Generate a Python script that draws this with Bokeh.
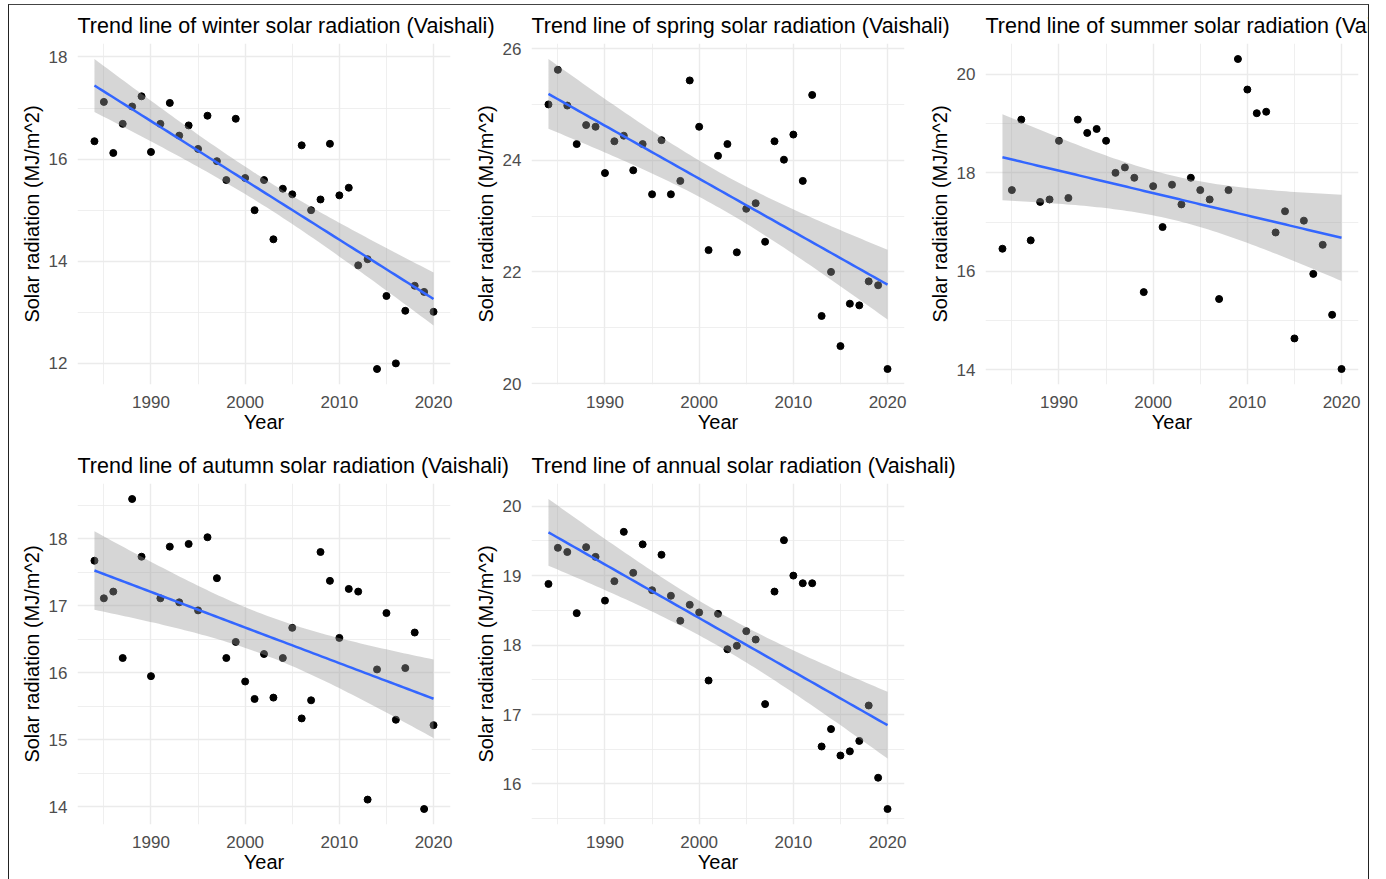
import numpy as np
from bokeh.plotting import figure
from bokeh.layouts import row, column
from bokeh.models import FixedTicker, Range1d
from bokeh.embed import file_html
from bokeh.resources import INLINE

years = list(range(1984, 2021))

winter = [16.35, 17.12, 16.12, 16.69, 17.03, 17.23, 16.14, 16.69, 17.10, 16.46,
          16.66, 16.20, 16.85, 15.96, 15.59, 16.79, 15.63, 15.00, 15.59, 14.43,
          15.42, 15.31, 16.27, 15.00, 15.21, 16.30, 15.29, 15.44, 13.92, 14.04,
          11.89, 13.32, 12.00, 13.03, 13.52, 13.40, 13.01]
spring = [25.00, 25.62, 24.98, 24.29, 24.63, 24.60, 23.77, 24.34, 24.44, 23.82,
          24.29, 23.39, 24.36, 23.39, 23.63, 25.43, 24.60, 22.39, 24.08, 24.29,
          22.35, 23.13, 23.23, 22.54, 24.34, 24.01, 24.46, 23.63, 25.17, 21.21,
          22.00, 20.67, 21.43, 21.40, 21.83, 21.76, 20.26]
summer = [16.46, 17.65, 19.08, 16.63, 17.41, 17.46, 18.65, 17.49, 19.08, 18.81,
          18.89, 18.65, 18.00, 18.11, 17.90, 15.58, 17.73, 16.90, 17.76, 17.36,
          17.90, 17.65, 17.46, 15.44, 17.65, 20.31, 19.69, 19.21, 19.24, 16.79,
          17.22, 14.64, 17.03, 15.95, 16.54, 15.12, 14.02]
autumn = [17.67, 17.11, 17.21, 16.22, 18.59, 17.73, 15.95, 17.11, 17.88, 17.05,
          17.92, 16.93, 18.02, 17.41, 16.22, 16.46, 15.87, 15.61, 16.28, 15.63,
          16.22, 16.67, 15.32, 15.59, 17.80, 17.37, 16.52, 17.25, 17.21, 14.11,
          16.05, 16.89, 15.30, 16.07, 16.60, 13.97, 15.22]
annual = [18.88, 19.40, 19.34, 18.46, 19.41, 19.27, 18.64, 18.92, 19.63, 19.04,
          19.45, 18.79, 19.30, 18.71, 18.35, 18.58, 18.47, 17.49, 18.45, 17.94,
          17.99, 18.20, 18.08, 17.15, 18.77, 19.51, 19.00, 18.89, 18.89, 16.54,
          16.79, 16.41, 16.47, 16.62, 17.13, 16.09, 15.64]

titles = ["Trend line of winter solar radiation (Vaishali)",
          "Trend line of spring solar radiation (Vaishali)",
          "Trend line of summer solar radiation (Vaishali)",
          "Trend line of autumn solar radiation (Vaishali)",
          "Trend line of annual solar radiation (Vaishali)"]

x_major = [1990, 2000, 2010, 2020]
x_minor = [1985, 1995, 2005, 2015]
y_major = [[12, 14, 16, 18], [20, 22, 24, 26], [14, 16, 18, 20],
           [14, 15, 16, 17, 18], [16, 17, 18, 19, 20]]
y_minor = [[13, 15, 17], [21, 23, 25], [15, 17, 19],
           [14.5, 15.5, 16.5, 17.5, 18.5], [15.5, 16.5, 17.5, 18.5, 19.5]]

T975 = 2.0301  # t quantile, df = 35
FONT = "Liberation Sans"
GRID = "#ebebeb"


def panel(title, vals, ymaj, ymin_t, width, height, right, bottom):
    x = np.array(years, dtype=float)
    y = np.array(vals, dtype=float)
    slope, intercept = np.polyfit(x, y, 1)
    xs = np.linspace(x.min(), x.max(), 80)
    fit = intercept + slope * xs
    n = len(x)
    resid = y - (intercept + slope * x)
    s = np.sqrt((resid ** 2).sum() / (n - 2))
    se = s * np.sqrt(1.0 / n + (xs - x.mean()) ** 2 / ((x - x.mean()) ** 2).sum())
    lo = fit - T975 * se
    hi = fit + T975 * se
    lo_v = min(y.min(), lo.min())
    hi_v = max(y.max(), hi.max())
    pad = 0.05 * (hi_v - lo_v)
    xpad = 0.05 * (x.max() - x.min())

    p = figure(width=width, height=height, title=title,
               x_range=Range1d(x.min() - xpad, x.max() + xpad),
               y_range=Range1d(lo_v - pad, hi_v + pad),
               output_backend="svg", toolbar_location=None,
               min_border_left=68, min_border_right=right,
               min_border_top=38, min_border_bottom=bottom)
    p.border_fill_color = None
    p.background_fill_color = None
    p.outline_line_color = None

    p.title.text_font = FONT
    p.title.text_font_size = "21.5px"
    p.title.text_font_style = "normal"
    p.title.text_color = "black"
    p.title.standoff = 11

    xt = FixedTicker(ticks=x_major, minor_ticks=x_minor)
    yt = FixedTicker(ticks=ymaj, minor_ticks=ymin_t)
    p.xaxis.ticker = xt
    p.yaxis.ticker = yt
    p.xgrid.ticker = xt
    p.ygrid.ticker = yt

    for ax in (p.xaxis, p.yaxis):
        ax.axis_line_color = None
        ax.major_tick_line_color = None
        ax.minor_tick_line_color = None
        ax.major_tick_out = 0
        ax.minor_tick_out = 0
        ax.major_label_text_color = "#4d4d4d"
        ax.major_label_text_font = FONT
        ax.major_label_text_font_size = "17px"
        ax.axis_label_text_font = FONT
        ax.axis_label_text_font_size = "20px"
        ax.axis_label_text_font_style = "normal"
        ax.axis_label_text_color = "black"
    p.xaxis.axis_label = "Year"
    p.yaxis.axis_label = "Solar radiation (MJ/m^2)"
    p.xaxis.major_label_standoff = 11
    p.xaxis.axis_label_standoff = 0
    p.yaxis.major_label_standoff = 10
    p.yaxis.axis_label_standoff = 3

    for g in (p.xgrid, p.ygrid):
        g.grid_line_color = GRID
        g.grid_line_width = 1.4
        g.minor_grid_line_color = GRID
        g.minor_grid_line_width = 0.8

    p.scatter(x, y, size=7, color="black")
    p.varea(x=xs, y1=lo, y2=hi, fill_color="#999999", fill_alpha=0.4)
    p.line(xs, fit, line_color="#3366FF", line_width=2.5)
    return p


series = [winter, spring, summer, autumn, annual]
EXTRA = 50
specs = [(454 + EXTRA, 440, 13 + EXTRA, 61),
         (454 + EXTRA, 440, 13 + EXTRA, 61),
         (451, 440, 10, 61),
         (454 + EXTRA, 434, 13 + EXTRA, 55),
         (454 + EXTRA, 434, 13 + EXTRA, 55)]
figs = []
for i in range(5):
    w, h, r, b = specs[i]
    figs.append(panel(titles[i], series[i], y_major[i], y_minor[i], w, h, r, b))

figs[0].margin = (0, -EXTRA, 0, 0)
figs[1].margin = (0, -EXTRA, 0, 0)
figs[3].margin = (0, -EXTRA, 0, 0)
figs[2].margin = (0, 0, 0, 0)
figs[4].margin = (0, 0, 0, 0)

r1 = row(figs[0], figs[1], figs[2], spacing=0)
r2 = row(figs[3], figs[4], spacing=0)
layout = column(r1, r2, spacing=0)
layout.margin = (4, 0, 0, 8)
layout.styles = {"border-left": "1px solid #222", "border-top": "1px solid #444",
                 "border-right": "1px solid #222", "overflow": "hidden"}

open("out.html", "w").write(file_html(layout, INLINE))
